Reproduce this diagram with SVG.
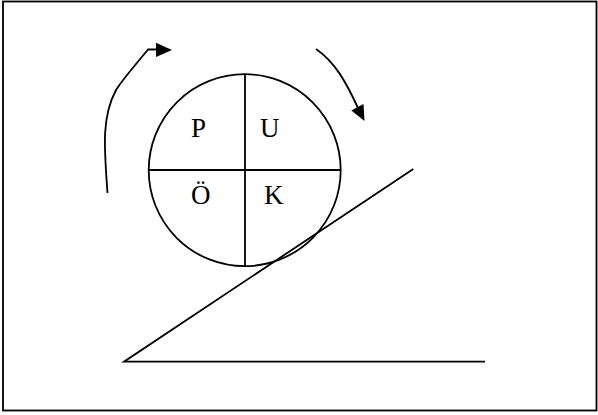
<svg xmlns="http://www.w3.org/2000/svg" width="598" height="415" viewBox="0 0 598 415">
<style>
.ln{fill:none;stroke:#000;stroke-width:1.8}
.lbl{font-family:"Liberation Serif","Times New Roman",serif;font-size:27px;fill:#000}
.head{fill:#000;stroke:none}
</style>
<rect x="0" y="0" width="598" height="415" fill="#fff"/>
<rect id="frame" x="3" y="1.5" width="593.5" height="409" class="ln" stroke-width="1.6"/>
<g id="wheel">
<ellipse cx="244.7" cy="170.2" rx="96" ry="96" class="ln"/>
<line x1="245" y1="74" x2="245" y2="266.5" class="ln"/>
<line x1="148.7" y1="170" x2="340.7" y2="170" class="ln"/>
<text class="lbl" x="191" y="137">P</text>
<text class="lbl" x="260" y="137">U</text>
<text class="lbl" x="191" y="203.5">Ö</text>
<text class="lbl" x="264" y="203.5">K</text>
</g>
<g id="slope">
<polyline points="413.3,169 124,361.7 485,361.7" class="ln"/>
</g>
<g id="connectors">
<path d="M107.5,193 C104.5,150 101,118 116,90 C125,76 138,62 148,49.5 L157,49.5" class="ln"/>
<polygon points="156,42.7 172,50 156,57" class="head"/>
<path d="M316,49 C335,62 346,82 358,108" class="ln"/>
<polygon points="351.3,110.5 363.5,104 364.5,121" class="head"/>
</g>
</svg>
